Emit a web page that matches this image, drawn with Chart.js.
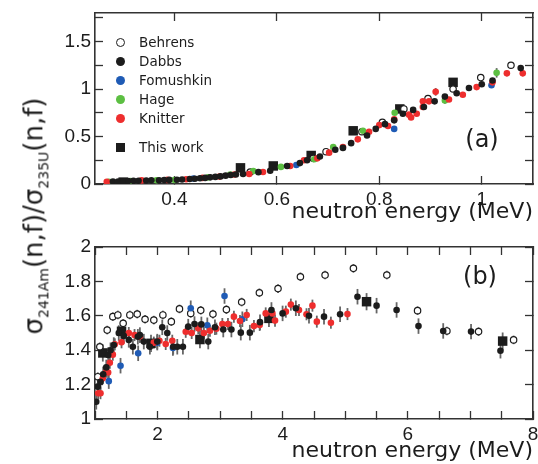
<!DOCTYPE html>
<html>
<head>
<meta charset="utf-8">
<script src="https://cdn.jsdelivr.net/npm/chart.js@4.4.1/dist/chart.umd.min.js"></script>
<style>
    html, body { margin: 0; padding: 0; background: #fff; }
    #wrap { position: relative; width: 538px; height: 464px; overflow: hidden; font-family: "DejaVu Sans", sans-serif; color: #1c1c1c; }
    canvas { position: absolute; left: 0; }
    #topChart { top: 0; }
    #botChart { top: 232px; }
    .tag { position: absolute; font-size: 24px; transform: translate(-50%, -50%); }
    #ylab { position: absolute; left: 35px; top: 216px; transform: translate(-50%, -50%) rotate(-90deg); white-space: nowrap; font-size: 26px; }
    #ylab sub { font-size: 14px; }
    .leg { position: absolute; left: 116px; height: 16px; display: flex; align-items: center; font-size: 13.5px; transform: translateY(-50%); }
    .leg .mk { width: 9px; height: 9px; margin-right: 14px; box-sizing: border-box; }
</style>
</head>
<body>
<div id="wrap">
    <canvas id="topChart" width="538" height="232"></canvas>
    <canvas id="botChart" width="538" height="232"></canvas>
    <div id="ylab">σ<sub>241Am</sub>(n,f)/σ<sub>235U</sub>(n,f)</div>
    <div class="tag" style="left:482px; top:139px">(a)</div>
    <div class="tag" style="left:480px; top:276px">(b)</div>
    <div id="legend"></div>
</div>
<script>
// ---- panel (a): 0.25 - 1.1 MeV, points as [energy, ratio, error]
const topBehrens = [[0.548,0.126],[0.671,0.27],[0.696,0.34],[0.766,0.55],[0.806,0.65],[0.848,0.79],[0.895,0.90],[0.944,1.00],[0.998,1.12],[1.057,1.25]];
const topDabbs = [[0.28,0.025],[0.29,0.027],[0.30,0.029],[0.31,0.031],[0.32,0.033],[0.33,0.035],[0.345,0.037],[0.355,0.039],[0.37,0.04],[0.38,0.041],[0.39,0.043],[0.405,0.045],[0.415,0.048],[0.43,0.052],[0.44,0.056],[0.45,0.06],[0.46,0.064],[0.47,0.07],[0.48,0.075],[0.49,0.08],[0.50,0.088],[0.51,0.094],[0.52,0.10],[0.534,0.105],[0.564,0.125],[0.587,0.14],[0.62,0.19],[0.645,0.22],[0.659,0.25],[0.684,0.29],[0.714,0.36],[0.729,0.38],[0.745,0.43],[0.776,0.51],[0.793,0.58],[0.811,0.63],[0.829,0.67],[0.846,0.74],[0.866,0.78],[0.887,0.81],[0.908,0.87],[0.928,0.92],[0.951,0.955],[0.975,1.01],[1.0,1.05],[1.021,1.09],[1.076,1.22,0.03]];
const topFomushkin = [[0.437,0.057],[0.638,0.20],[0.829,0.58],[1.019,1.04]];
const topHage = [[0.272,0.024],[0.314,0.03],[0.365,0.04],[0.40,0.042],[0.466,0.07],[0.509,0.10],[0.554,0.136],[0.608,0.18],[0.673,0.26],[0.71,0.39],[0.768,0.56],[0.83,0.75],[0.928,0.88,0.035],[1.029,1.17,0.05]];
const topKnitter = [[0.268,0.024],[0.336,0.038],[0.386,0.043],[0.423,0.05],[0.455,0.064],[0.488,0.078],[0.517,0.10],[0.546,0.105],[0.573,0.126],[0.626,0.19],[0.653,0.25],[0.679,0.27],[0.702,0.33],[0.729,0.39],[0.758,0.47],[0.78,0.55],[0.80,0.62],[0.817,0.61],[0.829,0.68],[0.858,0.73],[0.862,0.70],[0.873,0.74],[0.885,0.81],[0.885,0.87],[0.897,0.87],[0.91,0.97,0.04],[0.936,0.89],[0.963,0.94],[0.99,1.02],[1.021,1.07],[1.049,1.165,0.03],[1.08,1.165,0.03]];
const topThisWork = [[0.30,0.02],[0.529,0.17],[0.593,0.19],[0.667,0.30],[0.749,0.56],[0.84,0.79],[0.944,1.07]];

// ---- panel (b): 1 - 8 MeV
const botBehrens = [[1.045,1.246],[1.077,1.42],[1.195,1.517],[1.285,1.595],[1.365,1.605],[1.45,1.556],[1.557,1.605],[1.675,1.61],[1.80,1.58],[1.94,1.575],[2.085,1.605],[2.22,1.566],[2.35,1.64],[2.53,1.614],[2.69,1.632],[2.885,1.61],[3.10,1.636],[3.344,1.68],[3.627,1.734],[3.925,1.758],[4.283,1.827],[4.677,1.837],[5.13,1.876],[5.664,1.837],[6.155,1.63],[6.624,1.512],[7.13,1.508],[7.69,1.46]];
const botDabbs = [[1.02,1.1],[1.045,1.188],[1.088,1.217],[1.131,1.26],[1.18,1.30],[1.211,1.372],[1.248,1.40],[1.30,1.43],[1.38,1.50],[1.46,1.483],[1.54,1.46],[1.605,1.42],[1.685,1.478],[1.717,1.488],[1.78,1.45],[1.877,1.42],[1.995,1.45],[2.075,1.533],[2.155,1.50],[2.25,1.42],[2.315,1.42],[2.405,1.42],[2.49,1.537],[2.59,1.552],[2.70,1.55],[2.81,1.45],[2.917,1.533],[3.05,1.52],[3.18,1.52],[3.33,1.502],[3.475,1.502],[3.637,1.563],[3.82,1.634],[3.998,1.614],[4.21,1.644],[4.42,1.60],[4.66,1.595],[4.917,1.609],[5.195,1.711],[5.50,1.659],[5.82,1.634],[6.17,1.54],[6.565,1.512],[7.01,1.508],[7.48,1.397]];
const botFomushkin = [[1.22,1.22],[1.408,1.31],[1.69,1.382],[1.995,1.444],[2.245,1.413],[2.53,1.644],[2.795,1.545],[3.07,1.715],[3.355,1.58]];
const botKnitter = [[1.05,1.15],[1.088,1.15],[1.125,1.237],[1.18,1.275],[1.21,1.27],[1.237,1.327],[1.285,1.374],[1.317,1.434],[1.424,1.446],[1.54,1.50],[1.632,1.488],[1.717,1.478],[1.94,1.444],[2.03,1.455],[2.13,1.436],[2.235,1.455],[2.45,1.507],[2.545,1.50],[2.65,1.527],[2.74,1.50],[2.837,1.513],[2.94,1.525],[3.035,1.552],[3.125,1.552],[3.22,1.595],[3.317,1.57],[3.424,1.605],[3.54,1.54],[3.632,1.547],[3.728,1.614],[3.835,1.614],[3.877,1.572],[4.05,1.624],[4.13,1.665],[4.26,1.634],[4.38,1.609],[4.475,1.659],[4.545,1.566],[4.77,1.56],[5.035,1.61]];
const botThisWork = [[1.125,1.384],[1.424,1.51],[1.895,1.44],[2.677,1.462],[3.78,1.585],[5.34,1.682],[7.515,1.453]];

// typical error bars in panel (b)
const botErrBehrens = 0.025;
const botErrDabbs = 0.045;
const botErrFomushkin = 0.045;
const botErrKnitter = 0.035;
const botErrThisWork = 0.05;

const seriesNames = ['Behrens', 'Dabbs', 'Fomushkin', 'Hage', 'Knitter', 'This work'];

const colors = { black: '#1c1c1c', blue: '#1f5bb5', green: '#5cbf42', red: '#ee2e2e' };
const tickFont = { family: '"Liberation Sans", Arial, sans-serif', size: 19 };
const titleFont = { family: '"DejaVu Sans", sans-serif', size: 22 };

// vertical error bars, drawn under the markers
const errorBars = {
    id: 'errorBars',
    beforeDatasetsDraw(chart) {
        const { ctx, chartArea, scales: { x, y } } = chart;
        ctx.save();
        ctx.beginPath();
        ctx.rect(chartArea.left, chartArea.top, chartArea.width, chartArea.height);
        ctx.clip();
        chart.data.datasets.forEach(ds => {
            if (!ds.errs) return;
            ctx.strokeStyle = '#666';
            ctx.lineWidth = 1.8;
            ds.data.forEach((p, i) => {
                const e = ds.errs[i];
                if (!e) return;
                const px = x.getPixelForValue(p.x);
                ctx.beginPath();
                ctx.moveTo(px, y.getPixelForValue(p.y - e));
                ctx.lineTo(px, y.getPixelForValue(p.y + e));
                ctx.stroke();
            });
        });
        ctx.restore();
    }
};

function makeSet(label, pts, kind, defErr) {
    const ds = {
        label: label,
        data: pts.map(p => ({ x: p[0], y: p[1] })),
        errs: pts.map(p => (p.length > 2 ? p[2] : (defErr || 0))),
        showLine: false,
        pointStyle: 'circle',
        pointRadius: 3.3,
        pointHoverRadius: 3.3,
        pointBorderWidth: 0,
        pointBackgroundColor: colors.black,
        pointBorderColor: colors.black
    };
    if (kind === 'open') {
        ds.pointBackgroundColor = '#fff';
        ds.pointBorderWidth = 1.2;
        ds.pointRadius = ds.pointHoverRadius = 3.2;
    } else if (kind === 'square') {
        ds.pointStyle = 'rect';
        ds.pointRadius = ds.pointHoverRadius = 6.7;
    } else if (kind !== 'black') {
        ds.pointBackgroundColor = colors[kind];
        ds.pointBorderColor = colors[kind];
    }
    return ds;
}

function fmt(v) {
    return String(Math.round(v * 100) / 100);
}

// fixed axis sizes; drop the label overflow padding so the plot box stays where we put it
function fixSize(s, size) {
    if (s.isHorizontal()) s.height = size; else s.width = size;
    s.paddingTop = s.paddingBottom = s.paddingLeft = s.paddingRight = 0;
}

function axisPair(min, max, step, labelFn, pad, tickLen, isX, size, title, titlePad) {
    const grid = { drawOnChartArea: false, drawTicks: true, tickLength: -tickLen, color: '#333', tickWidth: 1.3 };
    const border = { display: true, color: '#333', width: 1.6 };
    const main = {
        type: 'linear', min: min, max: max,
        position: isX ? 'bottom' : 'left',
        ticks: { stepSize: step, includeBounds: false, autoSkip: false, maxRotation: 0, padding: pad, font: tickFont, color: '#1c1c1c', callback: labelFn },
        grid: grid, border: border,
        afterFit: s => fixSize(s, size)
    };
    if (title) {
        main.title = { display: true, text: title, align: 'end', font: titleFont, color: '#1c1c1c', padding: { top: 0, bottom: titlePad } };
    }
    const mirror = {
        type: 'linear', min: min, max: max,
        position: isX ? 'top' : 'right',
        ticks: { stepSize: step, includeBounds: false, display: false },
        grid: grid, border: border,
        afterFit: s => fixSize(s, 0)
    };
    return [main, mirror];
}

function build(canvasId, datasets, xs, ys, padTop) {
    const xa = axisPair(xs.min, xs.max, xs.step, xs.label, 12, 8, true, xs.height, 'neutron energy (MeV)', xs.titlePad);
    const ya = axisPair(ys.min, ys.max, ys.step, ys.label, 12, 8, false, 95);
    return new Chart(document.getElementById(canvasId), {
        type: 'scatter',
        data: { datasets: datasets },
        options: {
            responsive: false,
            animation: false,
            layout: { autoPadding: false, padding: { left: 0, top: padTop, right: 5, bottom: 0 } },
            plugins: { legend: { display: false }, tooltip: { enabled: false } },
            scales: { x: xa[0], x2: xa[1], y: ya[0], y2: ya[1] }
        },
        plugins: [errorBars]
    });
}

build('topChart', [
    makeSet('Dabbs', topDabbs, 'black'),
    makeSet('Knitter', topKnitter, 'red'),
    makeSet('Hage', topHage, 'green'),
    makeSet('Fomushkin', topFomushkin, 'blue'),
    makeSet('Behrens', topBehrens, 'open'),
    makeSet('This work', topThisWork, 'square')
], {
    min: 0.245, max: 1.1, step: 0.2, height: 48, titlePad: 7, label: v => fmt(v)
}, {
    min: 0, max: 1.8, step: 0.25,
    label: v => (Math.abs(v * 2 - Math.round(v * 2)) < 1e-6 ? fmt(v) : '')
}, 13);

build('botChart', [
    makeSet('Dabbs', botDabbs, 'black', botErrDabbs),
    makeSet('Knitter', botKnitter, 'red', botErrKnitter),
    makeSet('Fomushkin', botFomushkin, 'blue', botErrFomushkin),
    makeSet('Behrens', botBehrens, 'open', botErrBehrens),
    makeSet('This work', botThisWork, 'square', botErrThisWork)
], {
    min: 1, max: 8, step: 0.5, height: 45, titlePad: 0,
    label: v => (Math.abs(v / 2 - Math.round(v / 2)) < 1e-6 ? fmt(v) : '')
}, {
    min: 1, max: 2, step: 0.2, label: v => fmt(v)
}, 15);

// legend inside panel (a)
const legendKinds = { 'Behrens': 'open', 'Dabbs': 'black', 'Fomushkin': 'blue', 'Hage': 'green', 'Knitter': 'red', 'This work': 'square' };
const legendBox = document.getElementById('legend');
seriesNames.forEach((name, i) => {
    const kind = legendKinds[name];
    const row = document.createElement('div');
    row.className = 'leg';
    row.style.top = (42 + i * 19 + (kind === 'square' ? 10 : 0)) + 'px';
    const mk = document.createElement('span');
    mk.className = 'mk';
    if (kind === 'open') {
        mk.style.border = '1.3px solid ' + colors.black;
        mk.style.borderRadius = '50%';
    } else if (kind === 'square') {
        mk.style.background = colors.black;
    } else {
        mk.style.background = colors[kind];
        mk.style.borderRadius = '50%';
    }
    row.appendChild(mk);
    row.appendChild(document.createTextNode(name));
    legendBox.appendChild(row);
});
</script>
</body>
</html>
